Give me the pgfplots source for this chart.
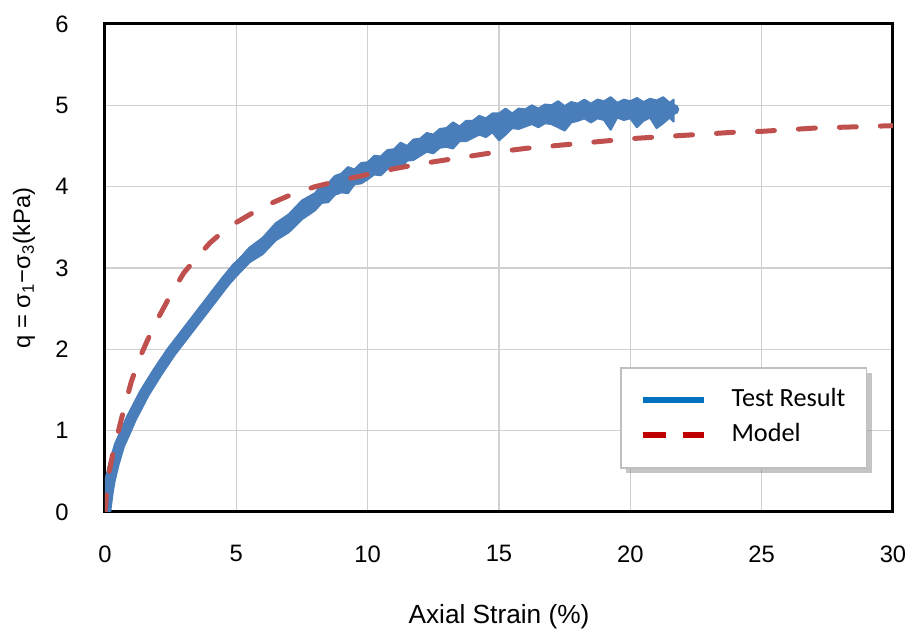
\documentclass[border=0pt]{standalone}
\usepackage{fontspec}
\setmainfont{Liberation Sans}
\newfontfamily\calibri{Carlito}
\usepackage{pgfplots}
\pgfplotsset{compat=1.18}
\usetikzlibrary{shadows}
\definecolor{blueline}{HTML}{4A7EBB}
\definecolor{redline}{HTML}{C0504D}
\definecolor{legblue}{HTML}{0070C0}
\definecolor{legred}{HTML}{C00000}
\definecolor{gridc}{RGB}{208,208,208}
\begin{document}
\begin{tikzpicture}
\begin{axis}[name=ax, scale only axis, width=315.2pt, height=195.2pt,
  xmin=0, xmax=30, ymin=0, ymax=6,
  xtick={0,5,...,30}, ytick={0,1,...,6},
  grid=major, major grid style={gridc, line width=0.6pt},
  axis line style={black, line width=1.2pt},
  major tick length=0pt,
  tick label style={font=\fontsize{9.5}{11}\selectfont, inner sep=0pt},
  /pgf/number format/assume math mode=true,
  yticklabel shift=14.4pt, xticklabel shift=13.2pt,
  xlabel={Axial Strain (\%)},
  xlabel style={at={([yshift=-36.6pt]axis description cs:0.5,0)}, anchor=north, inner sep=0pt, font=\fontsize{10.5}{12}\selectfont},
  ylabel={q = σ\textsubscript{1}−σ\textsubscript{3}(kPa)},
  ylabel style={at={([xshift=-32.4pt]axis description cs:0,0.5)}, anchor=center, inner sep=0pt, font=\fontsize{9.5}{11}\selectfont},
  legend style={at={(axis description cs:0.6536,0.2971)}, anchor=north west,
    draw=black!25, line width=0.6pt, fill=white,
    drop shadow={shadow xshift=2pt, shadow yshift=-2pt, fill=black!45, opacity=0.5},
    font=\calibri\fontsize{10.5}{12.6}\selectfont,
    inner xsep=7.5pt, inner ysep=7pt, row sep=2pt,
    nodes={inner sep=1pt, text height=7.5pt, text depth=2.5pt},
    /tikz/every odd column/.append style={column sep=9pt}},
  legend cell align=left,
  legend image code/.code={\begin{scope}[#1]\pgfpathmoveto{\pgfpoint{0pt}{0pt}}\pgfpathlineto{\pgfpoint{24.4pt}{0pt}}\pgfusepath{stroke}\end{scope}},
]
% noise band of the test result
\addplot[forget plot, draw=blueline, fill=blueline, line width=0.8pt, line join=round] coordinates {
(2,1.74)(2.5,2.01)(3,2.21)(3.5,2.45)(4,2.65)(4.5,2.89)(5,3.07)(5.5,3.25)(6,3.37)(6.5,3.55)(7,3.66)(7.5,3.83)
(8,3.92)(8.25,4.03)(8.5,4.04)(8.75,4.13)(9,4.16)(9.25,4.24)(9.5,4.21)(9.75,4.29)(10,4.30)(10.25,4.38)(10.5,4.37)(10.75,4.45)(11,4.46)(11.25,4.54)(11.5,4.50)(11.75,4.58)(12,4.59)(12.25,4.66)(12.5,4.64)(12.75,4.71)(13,4.72)(13.25,4.79)(13.5,4.74)(13.75,4.81)(14,4.81)(14.25,4.87)(14.5,4.84)(14.75,4.90)(15,4.90)(15.25,4.96)(15.5,4.90)(15.75,4.96)(16,4.95)(16.25,5.00)(16.5,4.96)(16.75,5.01)(17,5.00)(17.25,5.05)(17.5,4.99)(17.75,5.04)(18,5.02)(18.25,5.07)(18.5,5.02)(18.75,5.07)(19,5.05)(19.25,5.10)(19.5,5.03)(19.75,5.07)(20,5.05)(20.25,5.09)(20.5,5.04)(20.75,5.08)(21,5.06)(21.25,5.10)(21.5,5.03)(21.65,5.07)
(21.65,4.80)(21.5,4.85)(21.25,4.78)(21,4.72)(20.75,4.85)(20.5,4.81)(20.25,4.73)(20,4.84)(19.75,4.82)(19.5,4.85)(19.25,4.70)(19,4.82)(18.75,4.84)(18.5,4.79)(18.25,4.84)(18,4.81)(17.75,4.79)(17.5,4.69)(17.25,4.73)(17,4.77)(16.75,4.78)(16.5,4.73)(16.25,4.77)(16,4.74)(15.75,4.71)(15.5,4.72)(15.25,4.64)(15,4.57)(14.75,4.67)(14.5,4.61)(14.25,4.64)(14,4.60)(13.75,4.56)(13.5,4.56)(13.25,4.47)(13,4.49)(12.75,4.48)(12.5,4.41)(12.25,4.43)(12,4.38)(11.75,4.33)(11.5,4.32)(11.25,4.22)(11,4.23)(10.75,4.22)(10.5,4.14)(10.25,4.15)(10,4.09)(9.75,4.04)(9.5,4.03)(9.25,3.92)(9,3.93)(8.75,3.90)(8.5,3.81)(8.25,3.80)(8,3.71)
(7.5,3.60)(7,3.44)(6.5,3.34)(6,3.17)(5.5,3.07)(5,2.90)(4.5,2.73)(4,2.51)(3.5,2.33)(3,2.11)(2.5,1.92)(2,1.70)
} -- cycle;
% centre of the test result
\addplot[forget plot, blueline, line width=4.5pt, line join=round, line cap=round] coordinates {
(0.02,0)(0.06,0.1)(0.12,0.25)(0.2,0.4)(0.35,0.6)(0.55,0.82)(0.8,1.0)(1.0,1.15)(1.5,1.46)(2,1.72)(2.5,1.96)(3,2.17)(3.5,2.38)(4,2.59)(4.5,2.8)(5,3.0)(5.5,3.15)(6,3.29)(6.5,3.43)(7,3.57)(7.5,3.7)(8,3.82)(8.5,3.95)(9,4.05)(9.5,4.13)(10,4.2)(10.5,4.28)(11,4.35)(11.5,4.42)(12,4.49)(12.5,4.55)(13,4.61)(13.5,4.66)(14,4.71)(14.5,4.75)(15,4.79)(15.5,4.82)(16,4.85)(16.5,4.87)(17,4.89)(17.5,4.91)(18,4.92)(18.5,4.93)(19,4.94)(19.5,4.95)(20,4.95)(20.5,4.95)(21,4.95)(21.5,4.95)(21.65,4.95)
};
% model
\addplot[forget plot, redline, line width=2pt, line cap=round, dash pattern=on 6.8pt off 9.6pt] coordinates {
(0,0)(0.05,0.2)(0.15,0.48)(0.3,0.72)(0.5,0.98)(0.7,1.24)(1.0,1.6)(1.3,1.88)(1.6,2.1)(2.0,2.37)(2.5,2.67)(3.0,2.94)(3.5,3.13)(4.0,3.31)(4.5,3.45)(5.0,3.56)(6,3.75)(7,3.89)(8,4.00)(9,4.08)(10,4.15)(11,4.22)(12,4.28)(13,4.33)(14,4.38)(15,4.43)(16,4.47)(17,4.50)(18,4.53)(19,4.56)(20,4.59)(21,4.61)(22,4.63)(23,4.65)(24,4.67)(25,4.68)(26,4.70)(27,4.72)(28,4.73)(29,4.74)(30,4.75)
};
\addlegendimage{legblue, line width=2.4pt}
\addlegendentry{Test Result}
\addlegendimage{legred, line width=2.4pt, dash pattern=on 9.2pt off 6.8pt}
\addlegendentry{Model}
\end{axis}
\pgfresetboundingbox
\path[use as bounding box] ([shift={(-42pt,-46.8pt)}]ax.south west) rectangle ++(365.2pt,251.6pt);
\end{tikzpicture}
\end{document}
